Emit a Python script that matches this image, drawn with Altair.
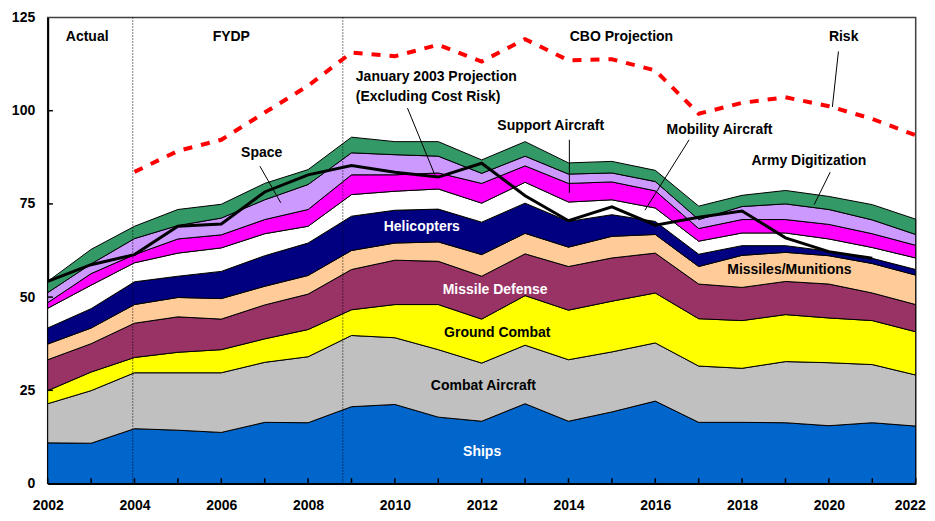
import altair as alt
import pandas as pd

years = list(range(2002, 2023))

ships = [10.9, 10.8, 14.7, 14.3, 13.7, 16.4, 16.3, 20.6, 21.2, 17.8, 16.7, 21.4, 16.7, 19.2, 22.1, 16.4, 16.4, 16.3, 15.5, 16.3, 15.4]
combat_aircraft = [10.5, 14.1, 15.0, 15.4, 16.0, 16.1, 17.7, 19.1, 17.9, 18.1, 15.6, 15.7, 16.5, 16.1, 15.6, 15.1, 14.5, 16.4, 16.9, 15.6, 13.7]
ground_combat = [3.5, 5.0, 4.1, 5.5, 6.2, 6.3, 7.3, 6.9, 8.9, 12.1, 11.8, 13.3, 13.3, 13.6, 13.4, 12.7, 12.8, 12.6, 12.0, 11.8, 11.6]
missile_defense = [8.3, 7.6, 9.2, 9.5, 8.2, 9.1, 9.5, 10.8, 11.9, 11.6, 11.5, 11.2, 11.7, 11.6, 10.7, 9.3, 8.9, 8.9, 9.1, 7.4, 7.3]
missiles_munitions = [4.2, 4.2, 5.0, 5.2, 5.5, 5.0, 5.0, 5.1, 4.6, 5.2, 5.8, 5.5, 5.2, 5.8, 5.0, 4.7, 8.6, 7.8, 7.6, 7.9, 7.9]
helicopters = [4.3, 5.2, 6.1, 5.7, 7.3, 8.2, 8.7, 9.2, 8.8, 8.8, 8.7, 8.1, 6.9, 5.8, 3.5, 3.3, 2.6, 1.8, 1.2, 1.4, 1.5]
mobility_aircraft = [5.3, 6.3, 5.1, 6.2, 6.3, 5.9, 4.5, 5.8, 5.1, 5.4, 5.1, 5.6, 5.2, 4.0, 3.6, 3.5, 3.4, 3.4, 3.3, 2.9, 3.1]
support_aircraft = [1.5, 3.1, 2.2, 3.8, 3.5, 3.8, 4.5, 5.3, 4.4, 4.3, 5.3, 4.4, 5.0, 4.8, 4.6, 3.4, 3.6, 3.6, 3.9, 3.7, 3.4]
space = [2.7, 2.6, 4.3, 3.6, 4.5, 5.3, 6.7, 5.9, 5.4, 4.5, 2.7, 2.6, 2.5, 2.4, 2.5, 2.4, 3.5, 4.2, 4.0, 3.7, 2.9]
army_digitization = [3.0, 3.9, 3.3, 4.3, 3.7, 4.4, 4.0, 4.2, 3.5, 3.9, 3.6, 3.9, 3.0, 3.1, 3.0, 3.6, 3.0, 3.6, 3.5, 4.1, 4.1]

series_names = ["Ships", "Combat Aircraft", "Ground Combat", "Missile Defense",
                "Missiles/Munitions", "Helicopters", "Mobility Aircraft",
                "Support Aircraft", "Space", "Army Digitization"]
series_colors = ["#0066CC", "#C0C0C0", "#FFFF00", "#993366", "#FFCC99",
                 "#000080", "#FFFFFF", "#FF00FF", "#CC99FF", "#339966"]

jan2003_years = list(range(2002, 2022))
jan2003_projection = [54.2, 58.7, 61.4, 69.0, 69.6, 78.2, 82.8, 85.3, 83.5, 82.2,
                      85.9, 77.2, 70.5, 74.2, 69.3, 71.4, 73.1, 65.9, 62.2, 60.4]

risk_years = list(range(2004, 2023))
risk = [83.6, 89.2, 92.2, 99.5, 106.7, 115.6, 114.6, 117.7, 113.2, 119.2,
        113.5, 113.8, 110.8, 99.2, 102.1, 103.6, 101.2, 97.8, 93.4]

period_breaks = [2003.96, 2008.8]

x_tick_labels = list(range(2002, 2023, 2))
y_tick_labels = [0, 25, 50, 75, 100, 125]

# annotation texts
header_texts = ["Actual", "FYDP", "CBO Projection", "Risk"]
header_x = [2002.91, 2006.23, 2015.22, 2020.34]
header_y = [119.9, 119.9, 119.9, 119.9]

label_texts = ["Space", "Support Aircraft", "Mobility Aircraft", "Army Digitization",
               "Helicopters", "Missile Defense", "Ground Combat", "Combat Aircraft",
               "Ships", "Missiles/Munitions"]
label_x = [2006.93, 2013.59, 2017.48, 2019.54, 2010.62, 2012.31, 2012.36, 2012.04, 2012.01, 2019.09]
label_y = [88.6, 95.8, 94.7, 86.4, 68.7, 52.0, 40.4, 26.1, 8.4, 57.2]
label_colors = ["black", "black", "black", "black", "white", "white", "black", "black", "white", "black"]

jan_texts = ["January 2003 Projection", "(Excluding Cost Risk)"]
jan_x = [2009.10, 2009.10]
jan_y = [109.0, 103.8]

# leader lines (x, y, x2, y2)
leader_x = [2020.22, 2010.29, 2006.89, 2014.02, 2016.78, 2020.03]
leader_y = [115.9, 100.7, 85.1, 92.2, 92.2, 83.5]
leader_x2 = [2020.08, 2010.92, 2007.37, 2014.02, 2015.76, 2019.66]
leader_y2 = [101.0, 82.8, 75.3, 77.9, 73.3, 74.8]

FONT = "Liberation Sans"

# ---- data tables ----
all_series = [ships, combat_aircraft, ground_combat, missile_defense, missiles_munitions,
              helicopters, mobility_aircraft, support_aircraft, space, army_digitization]
rows = []
for i, (name, vals) in enumerate(zip(series_names, all_series)):
    for yr, v in zip(years, vals):
        rows.append({"year": yr, "value": v, "series": name, "order": i})
df_area = pd.DataFrame(rows)

df_jan = pd.DataFrame({"year": jan2003_years, "value": jan2003_projection})
df_risk = pd.DataFrame({"year": risk_years, "value": risk})
df_breaks = pd.DataFrame({"year": period_breaks, "y0": [0] * len(period_breaks), "y1": [125] * len(period_breaks)})
df_xticks = pd.DataFrame({"year": years, "y0": [0] * len(years), "y1": [1.4] * len(years)})
df_yticks = pd.DataFrame({"v": y_tick_labels[1:-1], "x0": [2002] * 4, "x1": [2002.12] * 4})
df_head = pd.DataFrame({"x": header_x, "y": header_y, "t": header_texts})
df_lab = pd.DataFrame({"x": label_x, "y": label_y, "t": label_texts, "c": label_colors})
df_jant = pd.DataFrame({"x": jan_x, "y": jan_y, "t": jan_texts})
df_lead = pd.DataFrame({"x": leader_x, "y": leader_y, "x2": leader_x2, "y2": leader_y2})

xs = alt.Scale(domain=[2002, 2022], nice=False, zero=False)
ys = alt.Scale(domain=[0, 125], nice=False, zero=True)
xaxis = alt.Axis(values=x_tick_labels, format="d", title=None, ticks=False, grid=False,
                 labelFontSize=14, labelFontWeight="bold", labelPadding=15, labelColor="black",
                 labelFont=FONT, domainColor="black", domainWidth=2, labelFlush=False,
                 labelOffset={"condition": {"test": "datum.value == 2022", "value": -6}, "value": 0})
yaxis = alt.Axis(values=y_tick_labels, title=None, ticks=False, grid=False,
                 labelFontSize=14, labelFontWeight="bold", labelPadding=13, labelColor="black",
                 labelFont=FONT, domainColor="black", domainWidth=2)


def X(field):
    return alt.X(field, type="quantitative", scale=xs, axis=xaxis)


def Y(field, **kw):
    return alt.Y(field, type="quantitative", scale=ys, axis=yaxis, **kw)


areas = alt.Chart(df_area).mark_area(stroke="black", strokeWidth=1, opacity=1).encode(
    x=X("year"),
    y=Y("value", stack="zero"),
    color=alt.Color("series:N", scale=alt.Scale(domain=series_names, range=series_colors), legend=None),
    order=alt.Order("order:Q"),
)

breaks = alt.Chart(df_breaks).mark_rule(color="black", strokeWidth=1, strokeDash=[1, 2]).encode(
    x=X("year"), y=Y("y0"), y2="y1"
)

xticks = alt.Chart(df_xticks).mark_rule(color="black", strokeWidth=1.5).encode(
    x=X("year"), y=Y("y0"), y2="y1"
)
yticks = alt.Chart(df_yticks).mark_rule(color="black", strokeWidth=1.5).encode(
    x=X("x0"), x2="x1", y=Y("v")
)

jan_line = alt.Chart(df_jan).mark_line(color="black", strokeWidth=3).encode(
    x=X("year"), y=Y("value")
)
risk_line = alt.Chart(df_risk).mark_line(color="#FF0000", strokeWidth=4, strokeDash=[9, 9]).encode(
    x=X("year"), y=Y("value")
)

leaders = alt.Chart(df_lead).mark_rule(color="black", strokeWidth=1).encode(
    x=X("x"), y=Y("y"), x2="x2", y2="y2"
)

heads = alt.Chart(df_head).mark_text(font=FONT, fontSize=14, fontWeight="bold", color="black").encode(
    x=X("x"), y=Y("y"), text="t:N"
)
labs = alt.Chart(df_lab).mark_text(font=FONT, fontSize=14, fontWeight="bold").encode(
    x=X("x"), y=Y("y"), text="t:N", color=alt.Color("c:N", scale=None)
)
jans = alt.Chart(df_jant).mark_text(font=FONT, fontSize=14, fontWeight="bold", color="black", align="left").encode(
    x=X("x"), y=Y("y"), text="t:N"
)

chart = alt.layer(
    areas, breaks, jan_line, risk_line, xticks, yticks, leaders, heads, labs, jans
).properties(
    width=868, height=466,
    padding={"left": 39.7, "top": 9.5, "right": 11, "bottom": 29.5},
    autosize=alt.AutoSizeParams(type="none"),
    background="white",
).configure_view(stroke="#404040", strokeWidth=1.5)

chart.save("out.html", embed_options={"renderer": "svg", "actions": False})
